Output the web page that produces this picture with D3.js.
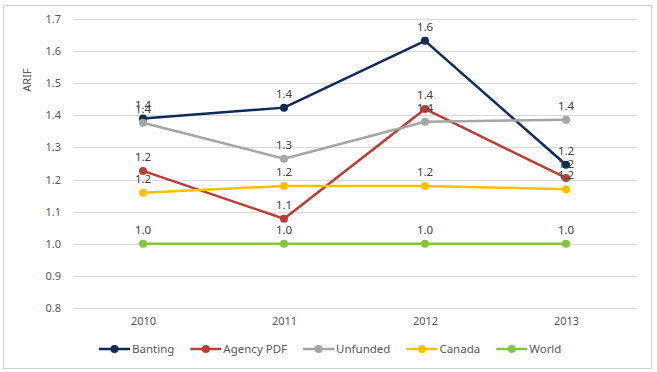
<!DOCTYPE html>
<html><head><meta charset="utf-8">
<script src="https://cdn.jsdelivr.net/npm/d3@7"></script>
<style>body{margin:0;background:#fff;}svg{display:block;font-family:"Noto Sans",sans-serif;}</style>
</head><body>
<svg id="c" width="657" height="372"></svg>
<script>
const years = ["2010","2011","2012","2013"];
const yTicks = [0.8,0.9,1.0,1.1,1.2,1.3,1.4,1.5,1.6,1.7];
const seriesNames = ["Banting","Agency PDF","Unfunded","Canada","World"];
const seriesColors = ["#0d2b56","#be3b35","#a5a5a5","#ffc000","#84c441"];
const banting = [1.39,1.424,1.632,1.246];
const agencyPDF = [1.227,1.078,1.42,1.205];
const unfunded = [1.377,1.265,1.38,1.386];
const canada = [1.159,1.18,1.18,1.17];
const world = [1.0,1.0,1.0,1.0];
const seriesValues = [banting,agencyPDF,unfunded,canada,world];

const svg = d3.select("#c");
svg.append("rect").attr("x",3.5).attr("y",5.5).attr("width",648).attr("height",363)
  .attr("fill","#fff").attr("stroke","#d0d0d0").attr("stroke-width",1);

const x = d3.scalePoint().domain(years).range([143,566]);
const y = d3.scaleLinear().domain([0.8,1.7]).range([308,19]);
const left = 73, right = 637;

// gridlines
svg.append("g").selectAll("line").data(yTicks).join("line")
  .attr("x1",left).attr("x2",right)
  .attr("y1",d=>Math.round(y(d))+0.5).attr("y2",d=>Math.round(y(d))+0.5)
  .attr("stroke","#d9d9d9").attr("stroke-width",1);

// y axis
const yAxis = d3.axisLeft(y).tickValues(yTicks).tickFormat(d3.format(".1f")).tickSize(0).tickPadding(0);
const ya = svg.append("g").attr("transform",`translate(61,0)`).call(yAxis);
ya.select(".domain").remove();
ya.selectAll("text").attr("fill","#595959").style("font-size","11px").style("font-family","'Noto Sans',sans-serif");

// x axis
const xAxis = d3.axisBottom(x).tickSize(0).tickPadding(0);
const xa = svg.append("g").attr("transform",`translate(0,317)`).call(xAxis);
xa.select(".domain").remove();
xa.selectAll("text").attr("fill","#595959").style("font-size","11px").style("font-family","'Noto Sans',sans-serif");

// y title
svg.append("text").attr("transform","translate(31,80) rotate(-90)").attr("text-anchor","middle")
  .attr("fill","#595959").style("font-size","11px").text("ARIF");

const line = d3.line().x((d,i)=>x(years[i])).y(d=>y(d));
seriesValues.forEach((vals,si)=>{
  const g = svg.append("g");
  g.append("path").datum(vals).attr("d",line).attr("fill","none")
    .attr("stroke",seriesColors[si]).attr("stroke-width",2.5).attr("stroke-linejoin","round");
  g.selectAll("circle").data(vals).join("circle")
    .attr("cx",(d,i)=>x(years[i])).attr("cy",d=>y(d)).attr("r",4).attr("fill",seriesColors[si]);
});
// labels on top
seriesValues.forEach((vals,si)=>{
  svg.append("g").selectAll("text").data(vals).join("text")
    .attr("x",(d,i)=>x(years[i])).attr("y",d=>y(d)-10)
    .attr("text-anchor","middle").attr("fill","#404040").style("font-size","11.5px")
    .text(d=>d3.format(".1f")(d));
});

// legend
const lg = svg.append("g").attr("transform","translate(0,349)");
let cx = 99;
seriesNames.forEach((n,i)=>{
  const it = lg.append("g").attr("transform",`translate(${cx},0)`);
  it.append("line").attr("x1",0).attr("x2",31).attr("y1",0).attr("y2",0)
    .attr("stroke",seriesColors[i]).attr("stroke-width",2.5);
  it.append("circle").attr("cx",15.5).attr("cy",0).attr("r",4).attr("fill",seriesColors[i]);
  const t = it.append("text").attr("x",33).attr("y",4).attr("fill","#595959")
    .style("font-size","11.5px").text(n);
  const w = t.node().getComputedTextLength();
  cx += 33 + w + 16;
});
</script>
</body></html>
